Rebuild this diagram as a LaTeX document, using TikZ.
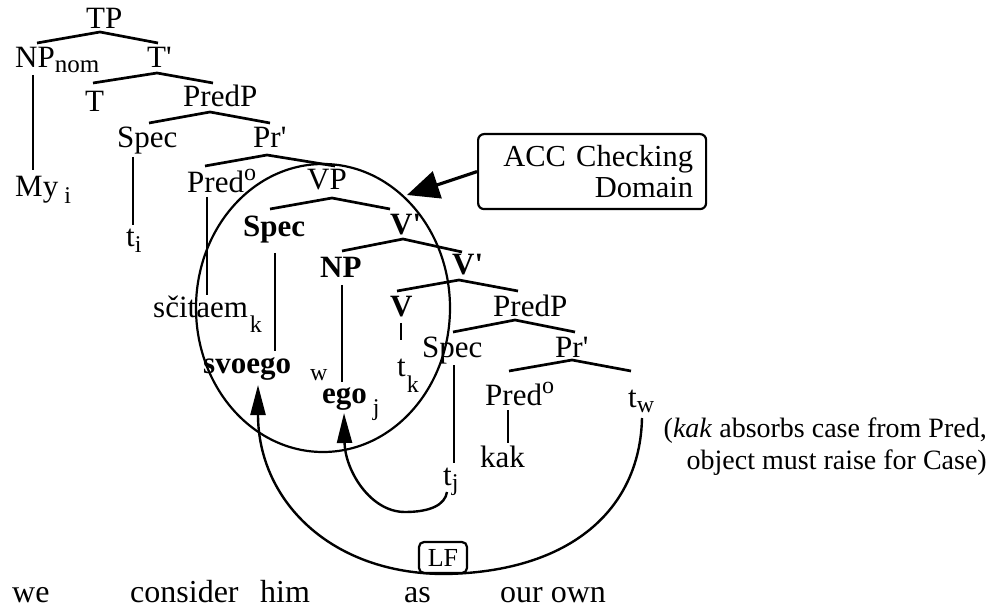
\documentclass[tikz,border=0pt]{standalone}
\usepackage{fontspec}
\setmainfont{Liberation Serif}
\usetikzlibrary{shapes.geometric,arrows.meta}
\newcommand\lo[2]{\raisebox{-#1}{\fontsize{24}{24}\selectfont #2}}
\newcommand\hi[2]{\raisebox{#1}{\fontsize{24}{24}\selectfont #2}}
\newcommand\pr{\textquotesingle}
\begin{document}
\begin{tikzpicture}[x=1pt,y=-1pt,
  lbl/.style={inner sep=0pt, anchor=base west, font=\fontsize{31}{34}\selectfont},
  blbl/.style={lbl, font=\fontsize{31}{34}\selectfont\bfseries},
  bot/.style={inner sep=0pt, anchor=base west, font=\fontsize{32}{36}\selectfont},
  br/.style={line width=2.7pt},
  arr/.style={line width=2.4pt, -{Triangle[length=30pt,width=15pt]}},
  rbox/.style={draw, rounded corners=6pt, line width=2.2pt}]
\useasboundingbox (0,0) rectangle (990,609);
% ---- nodes ----
\node[lbl] (TP) at (86,29) {TP};
\node[lbl] (NPnom) at (15,68) {NP\lo{5pt}{\fontsize{25}{25}\selectfont nom}};
\node[lbl] (Tbar) at (147,68) {T\pr};
\node[lbl] (T) at (85,112) {T};
\node[lbl] (PredP) at (183,107) {PredP};
\node[lbl] (Spec1) at (117,148) {Spec};
\node[lbl] (Pr1) at (253,148) {Pr\pr};
\node[lbl] (My) at (15,197) {My\hspace{6pt}\lo{7pt}{i}};
\node[lbl] (Pred1) at (187,193) {Pred\hi{12pt}{o}};
\node[lbl] (VP) at (307,190) {VP};
\node[blbl] (SpecB) at (243,237) {Spec};
\node[blbl] (Vbar1) at (390,235) {V\pr};
\node[lbl] (ti) at (126,247) {t\lo{6pt}{i}};
\node[blbl] (NP) at (320,278) {NP};
\node[blbl] (Vbar2) at (452,275) {V\pr};
\node[lbl] (scit) at (153,318) {sčitaem\hspace{2pt}\lo{15pt}{k}};
\node[blbl] (V) at (390,317) {V};
\node[lbl] (PredP2) at (493,317) {PredP};
\node[lbl] (tk) at (397,377) {t\hspace{1pt}\lo{15pt}{k}};
\node[lbl] (Spec3) at (422,357) {Spec};
\node[lbl] (Pr3) at (555,357) {Pr\pr};
\node[blbl] (svoego) at (203,373) {svoego};
\node[lbl, font=\fontsize{24}{24}\selectfont] (w) at (310,380) {w};
\node[blbl] (ego) at (322,403) {ego\hspace{6pt}\lo{12pt}{\mdseries j}};
\node[lbl] (Pred3) at (485,405) {Pred\hi{12pt}{o}};
\node[lbl] (tw) at (628,407) {t\lo{5pt}{w}};
\node[lbl] (kak) at (480,467) {kak};
\node[lbl] (tj) at (443,485) {t\lo{5pt}{j}};
% checking domain
\node[ellipse, draw, line width=2.2pt, minimum width=254pt, minimum height=288pt, inner sep=0pt] (dom) at (323,308) {};
\node[rbox, anchor=north west, minimum width=228pt, minimum height=75pt, text width=202pt, inner xsep=13pt, inner ysep=0pt, align=right, font=\fontsize{30.5}{31}\selectfont] (acc) at (477,133) {ACC Checking\\Domain\hspace*{14pt}};
\coordinate (acctip) at (407,195);
\draw[line width=3.2pt, -{Triangle[length=32pt,width=28pt]}] (acc.west) -- (acctip);
% comment
\node[inner sep=0pt, anchor=east, align=right, font=\fontsize{28}{32}\selectfont] (cm) at (987,447) {(\textit{kak} absorbs case from Pred,\\object must raise for Case)};
% LF
\node[rbox, rounded corners=5pt, minimum width=48pt, minimum height=31pt, inner sep=0pt, font=\fontsize{26}{26}\selectfont] (LF) at (443,557.5) {LF};
% bottom gloss
\node[bot] (g1) at (12,602) {we};
\node[bot] (g2) at (130,602) {consider};
\node[bot] (g3) at (260,602) {him};
\node[bot] (g4) at (404,602) {as};
\node[bot] (g5) at (500,602) {our own};
% ---- branch coordinates ----
\coordinate (TPa) at (100,32);  \coordinate (TPl) at (37,43);  \coordinate (TPr) at (158,43);
\coordinate (Ta) at (157,73);   \coordinate (Tl) at (93,83);   \coordinate (Tr) at (213,83);
\coordinate (Pa) at (210,112);  \coordinate (Pl) at (149,123); \coordinate (Pr) at (270,123);
\coordinate (Ra) at (267,155);  \coordinate (Rl) at (205,166); \coordinate (Rr) at (335,166);
\coordinate (Va) at (332,198);  \coordinate (Vl) at (270,209); \coordinate (Vr) at (390,209);
\coordinate (Wa) at (403,239);  \coordinate (Wl) at (342,251); \coordinate (Wr) at (462,252);
\coordinate (Xa) at (459,280);  \coordinate (Xl) at (397,291); \coordinate (Xr) at (518,291);
\coordinate (Ya) at (515,320);  \coordinate (Yl) at (453,332); \coordinate (Yr) at (575,332);
\coordinate (Za) at (572,360);  \coordinate (Zl) at (509,371); \coordinate (Zr) at (631,371);
\draw[br] (TPl) -- (TPa) -- (TPr);
\draw[br] (Tl) -- (Ta) -- (Tr);
\draw[br] (Pl) -- (Pa) -- (Pr);
\draw[br] (Rl) -- (Ra) -- (Rr);
\draw[br] (Vl) -- (Va) -- (Vr);
\draw[br] (Wl) -- (Wa) -- (Wr);
\draw[br] (Xl) -- (Xa) -- (Xr);
\draw[br] (Yl) -- (Ya) -- (Yr);
\draw[br] (Zl) -- (Za) -- (Zr);
% vertical lines
\coordinate (m1) at (33,75);   \coordinate (m2) at (33,170);
\coordinate (i1) at (133,157); \coordinate (i2) at (133,225);
\coordinate (s1) at (207,197); \coordinate (s2) at (207,295);
\coordinate (v1) at (275,253); \coordinate (v2) at (275,351);
\coordinate (e1) at (342,285); \coordinate (e2) at (342,382);
\coordinate (k1) at (401,323); \coordinate (k2) at (401,340);
\coordinate (j1) at (454,365); \coordinate (j2) at (454,463);
\coordinate (a1) at (508,410); \coordinate (a2) at (508,443);
\draw[br] (m1) -- (m2);
\draw[br] (i1) -- (i2);
\draw[br] (s1) -- (s2);
\draw[br] (v1) -- (v2);
\draw[br] (e1) -- (e2);
\draw[br] (k1) -- (k2);
\draw[br] (j1) -- (j2);
\draw[br] (a1) -- (a2);
% movement arrows
\coordinate (twb) at (642,418);
\coordinate (svtip) at (258,385);
\coordinate (tjb) at (447,492);
\coordinate (egotip) at (344,413);
\draw[arr] (twb) .. controls (640,510) and (570,572) .. (445,574) .. controls (330,574) and (258,500) .. (svtip);
\draw[arr] (tjb) .. controls (445,505) and (430,512) .. (405,512) .. controls (370,512) and (345,470) .. (egotip);
\end{tikzpicture}
\end{document}
